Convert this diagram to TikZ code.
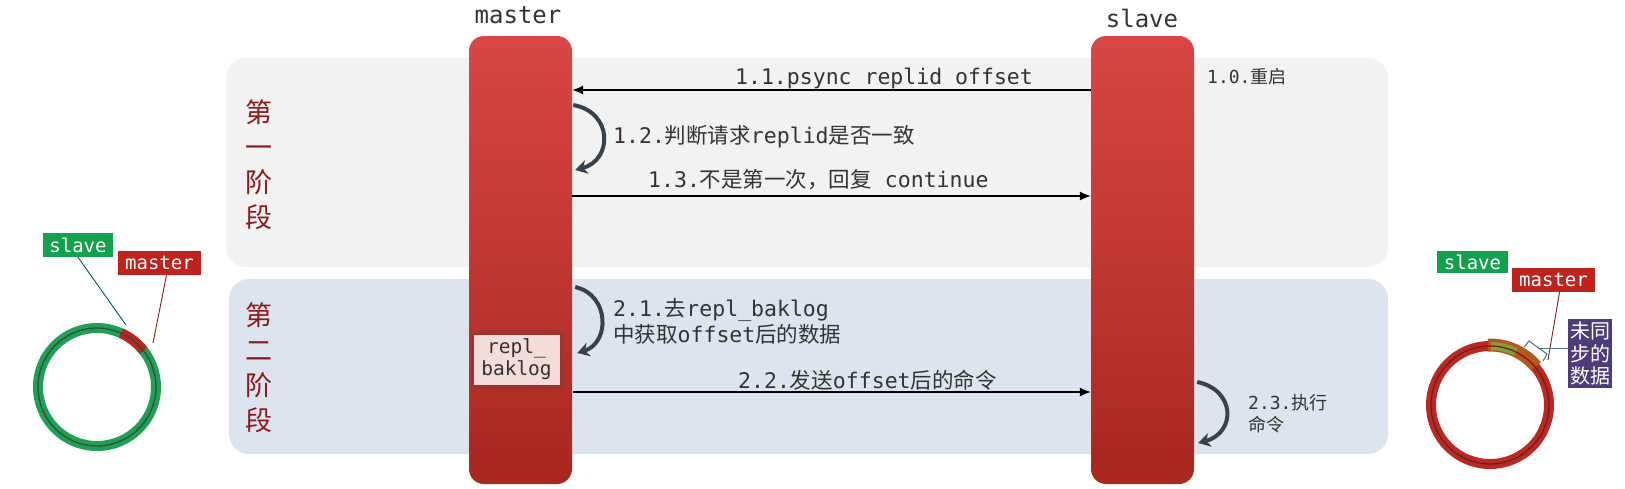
\documentclass[tikz,border=0pt]{standalone}
\usepackage{fontspec}
\setmainfont{DejaVu Sans Mono}
\newfontfamily\zh{Noto Sans CJK SC}
\usetikzlibrary{arrows.meta}
\definecolor{panelgray}{HTML}{F2F2F2}
\definecolor{panelblue}{HTML}{DCE4EF}
\definecolor{bartop}{HTML}{D94646}
\definecolor{barbot}{HTML}{A8271F}
\definecolor{stagered}{HTML}{8B1A1A}
\definecolor{txt}{HTML}{333333}
\definecolor{curvecol}{HTML}{38424C}
\definecolor{ringgreen}{HTML}{1FA055}
\definecolor{ringgreendark}{HTML}{2F4F3F}
\definecolor{ringred}{HTML}{B82A24}
\definecolor{ringreddark}{HTML}{7A1A18}
\definecolor{segbrown}{HTML}{B5561F}
\definecolor{segolive}{HTML}{7FA03C}
\definecolor{boxgreen}{HTML}{13A14E}
\definecolor{boxred}{HTML}{C0221E}
\definecolor{boxpurple}{HTML}{4E3B7A}
\definecolor{logfill}{HTML}{F4DCD8}
\definecolor{logedge}{HTML}{7A3A35}
\definecolor{bracketcol}{HTML}{4A6E8C}
\begin{document}
\begin{tikzpicture}[x=1pt,y=-1pt,
  bar/.style={top color=bartop, bottom color=barbot, rounded corners=15pt,
    minimum width=103pt, minimum height=448pt, inner sep=0pt},
  lbl/.style={font=\fontsize{21.5}{26}\selectfont, text=txt, inner sep=0pt},
  sml/.style={font=\fontsize{18}{22}\selectfont, text=txt, inner sep=0pt},
  title/.style={font=\fontsize{24}{28}\selectfont, text=txt, inner sep=0pt},
  stage/.style={font=\zh\fontsize{27}{35}\selectfont, text=stagered, align=center, inner sep=0pt},
  msg/.style={-{Latex[length=11pt,width=9pt]}, line width=1.2pt, black},
  selfarrow/.style={-{Stealth[length=12pt,width=14pt]}, line width=4pt, curvecol},
  tag/.style={font=\fontsize{19}{22}\selectfont, text=white, inner sep=0pt, minimum height=24pt},
  glowbox/.style={fill=logfill, minimum width=86pt, minimum height=50pt, align=center, inner sep=0pt,
    font=\fontsize{19.5}{22}\selectfont, text=txt,
    preaction={draw=logedge, draw opacity=0.12, line width=10pt},
    preaction={draw=logedge, draw opacity=0.18, line width=6pt},
    preaction={draw=logedge, draw opacity=0.3, line width=3pt}},
]
\useasboundingbox (0,0) rectangle (1625,488);
% panels
\fill[panelgray, rounded corners=20pt] (226,58) rectangle (1388,267);
\fill[panelblue, rounded corners=20pt] (229,279) rectangle (1388,454);
% stage labels
\node[stage] (s1) at (259,165) {第\\一\\阶\\段};
\node[stage] (s2) at (259,368) {第\\二\\阶\\段};
% titles
\node[title, anchor=base] (tmaster) at (518,23) {master};
\node[title, anchor=base] (tslave) at (1142,27) {slave};
% bars
\node[bar] (master) at (520.5,260) {};
\node[bar] (slave) at (1142.5,260) {};
% repl_baklog
\node[glowbox] (log) at (516.5,359.5) {repl\_\\baklog};
% y levels
\coordinate (y11) at (0,90);
\coordinate (y12a) at (0,105);
\coordinate (y12b) at (0,170);
\coordinate (y13) at (0,196);
\coordinate (y21a) at (0,287);
\coordinate (y21b) at (0,353);
\coordinate (y22) at (0,392);
\coordinate (y23a) at (0,382);
\coordinate (y23b) at (0,443);
% messages
\draw[msg] (slave.west |- y11) -- (master.east |- y11);
\draw[msg] (master.east |- y13) -- (slave.west |- y13);
\draw[msg] ([xshift=1pt]master.east |- y22) -- (slave.west |- y22);
% self arrows
\draw[selfarrow] ([xshift=1pt]master.east |- y12a) .. controls (613,112) and (613,160) .. ([xshift=3pt]master.east |- y12b);
\draw[selfarrow] ([xshift=3pt]master.east |- y21a) .. controls (610,295) and (610,343) .. ([xshift=5pt]master.east |- y21b);
\draw[selfarrow] ([xshift=3pt]slave.east |- y23a) .. controls (1236,390) and (1236,433) .. ([xshift=4pt]slave.east |- y23b);
% labels
\node[lbl, anchor=base] (l11) at (884,84) {1.1.psync replid offset};
\node[sml, anchor=base west] (l10) at (1207,83) {1.0.{\zh 重启}};
\node[lbl, anchor=base west] (l12) at (613,143) {1.2.{\zh 判断请求}replid{\zh 是否一致}};
\node[lbl, anchor=base west] (l13) at (648,187) {1.3.{\zh 不是第一次，回复} continue};
\node[lbl, anchor=base west] (l21a) at (613,316) {2.1.{\zh 去}repl\_baklog};
\node[lbl, anchor=base west] (l21b) at (613,342) {{\zh 中获取}offset{\zh 后的数据}};
\node[lbl, anchor=base west] (l22) at (738,388) {2.2.{\zh 发送}offset{\zh 后的命令}};
\node[sml, anchor=base west] (l23a) at (1248,409) {2.3.{\zh 执行}};
\node[sml, anchor=base west] (l23b) at (1248,431) {{\zh 命令}};
% left ring
\draw[line width=10pt, ringgreen] (97,387) circle[radius=59pt];
\draw[line width=10pt, boxred] (97,387) ++(38:59pt) arc[start angle=38, end angle=66, radius=59pt];
\draw[line width=1.3pt, ringgreendark] (97,387) circle[radius=59pt];
\node[tag, fill=boxgreen, minimum width=70pt] (lslave) at (78,245) {slave};
\node[tag, fill=boxred, minimum width=83pt] (lmaster) at (159.5,263) {master};
\coordinate (lslaveend) at (126,325);
\coordinate (lmasterend) at (153,343);
\draw[line width=0.9pt, teal!70!black] (lslave.south) -- (lslaveend);
\draw[line width=0.9pt, stagered] ([xshift=7pt]lmaster.south) -- (lmasterend);
% right ring
\draw[line width=10pt, ringred] (1490,405) circle[radius=59pt];
\draw[line width=13pt, segbrown] (1490,405) ++(92:60pt) arc[start angle=92, end angle=40, radius=60pt];
\draw[line width=8pt, segolive] (1490,405) ++(89:59pt) arc[start angle=89, end angle=64, radius=59pt];
\draw[line width=1.3pt, ringreddark] (1490,405) circle[radius=59pt];
\node[tag, fill=boxgreen, minimum width=71pt, minimum height=22pt] (rslave) at (1472.5,262) {slave};
\node[tag, fill=boxred, minimum width=83pt] (rmaster) at (1553.5,280) {master};
\node[fill=boxpurple, text=white, minimum width=44pt, minimum height=69pt, inner sep=0pt,
  align=center, font=\zh\fontsize{20}{22.5}\selectfont] (unsync) at (1590,353.5) {未同\\步的\\数据};
\coordinate (rmasterend) at (1548,360);
\draw[line width=0.9pt, stagered] ([xshift=6pt]rmaster.south) -- (rmasterend);
\coordinate (brmid) at (1538,348);
\draw[line width=1pt, bracketcol] (1524,347) -- (1529,341) -- (1547,354) -- (1543,361);
\draw[line width=1pt, bracketcol] ([yshift=5.5pt]unsync.west) -- (brmid);
\end{tikzpicture}
\end{document}
